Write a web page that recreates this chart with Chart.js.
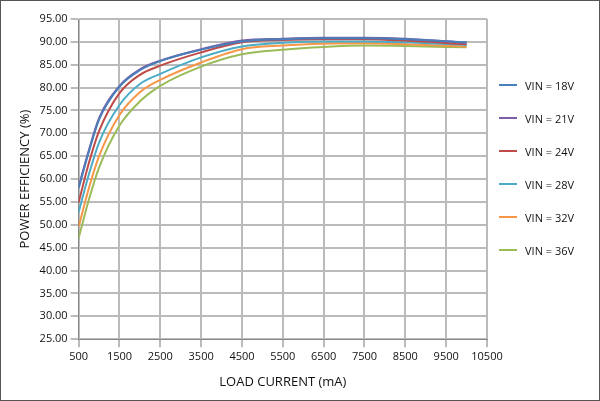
<!DOCTYPE html><html><head><script src="https://cdn.jsdelivr.net/npm/chart.js@4"></script>
<style>html,body{margin:0;background:#fff}#w{position:relative;width:598px;height:399px;border:1px solid #555;background:#fff}
#lg{position:absolute;left:498px;top:77px;font:11px "Open Sans",sans-serif;color:#111}
#lg div{height:33px;display:flex;align-items:flex-start}#lg span{display:inline-block;width:18px;height:2px;margin:6px 8px 0 0}</style></head>
<body><div id="w"><canvas id="c" width="598" height="399"></canvas><div id="lg"></div></div>
<script>
const xs=[500,750,1000,1500,2000,2500,3500,4500,5500,6500,7500,8500,10000];
const labels=["VIN = 18V","VIN = 21V","VIN = 24V","VIN = 28V","VIN = 32V","VIN = 36V"];
const colors=["#4a7ebb","#7d5fa6","#be4b48","#4bacc6","#f79646","#9bbb59"];
const v18=[58.0,66.0,73.0,80.2,83.8,85.8,88.3,90.1,90.6,90.8,90.8,90.6,89.9];
const v21=[58.4,66.3,73.3,80.4,84.0,85.9,88.4,90.3,90.7,90.9,90.9,90.7,89.8];
const v24=[54.9,63.5,70.5,78.8,82.8,84.8,87.7,89.9,90.4,90.6,90.6,90.3,89.5];
const v28=[52.7,61.0,68.0,76.2,80.8,83.0,86.6,89.0,89.8,90.1,90.1,89.9,89.3];
const v32=[49.6,58.0,65.0,74.0,79.0,81.7,85.5,88.4,89.2,89.6,89.7,89.5,89.0];
const v36=[47.1,55.5,62.5,71.7,77.0,80.4,84.6,87.3,88.3,88.9,89.2,89.1,88.8];
const series=[v18,v21,v24,v28,v32,v36];
document.getElementById('lg').innerHTML=labels.map((l,i)=>`<div><span style="background:${colors[i]}"></span>${l}</div>`).join('');
const f={family:"'Open Sans',sans-serif",size:11};
const tf={family:"'Open Sans',sans-serif",size:13};
new Chart(document.getElementById('c'),{type:'line',
data:{datasets:series.map((s,i)=>({label:labels[i],data:xs.map((x,j)=>({x,y:s[j]})),borderColor:colors[i],borderWidth:2,pointRadius:0,cubicInterpolationMode:'monotone',fill:false}))},
options:{responsive:false,animation:false,layout:{padding:{left:12,right:112,top:18,bottom:6}},
plugins:{legend:{display:false},tooltip:{enabled:false}},
scales:{x:{type:'linear',min:500,max:10500,ticks:{stepSize:1000,color:'#111',font:f,maxRotation:0,callback:v=>String(v)},grid:{color:'#bbb',lineWidth:2},border:{color:'#888'},
title:{display:true,text:'LOAD CURRENT (mA)',font:tf,color:'#111',padding:{top:8}}},
y:{min:25,max:95,ticks:{stepSize:5,color:'#111',font:f,callback:v=>v.toFixed(2)},grid:{color:'#bbb',lineWidth:2},border:{color:'#888'},
title:{display:true,text:'POWER EFFICIENCY (%)',font:tf,color:'#111'}}}}});
</script></body></html>
